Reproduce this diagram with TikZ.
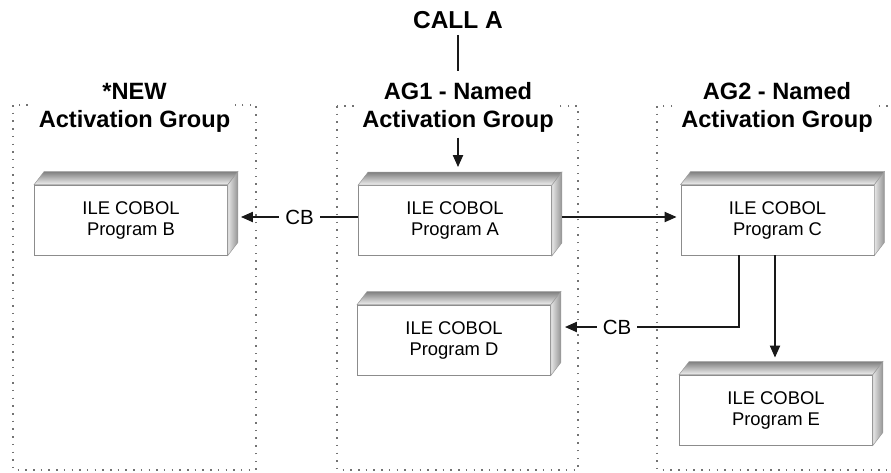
\documentclass[tikz,border=0pt]{standalone}
\usepackage{fontspec}
\setmainfont{Liberation Sans}
\usetikzlibrary{arrows.meta,calc}
\newcommand\progfaces[1]{%
  \path[top color=black!50,bottom color=black!6,draw=black!40,line width=0.5pt]
    (#1.north west) -- ++(10,-13) -- ($(#1.north east)+(10,-13)$) -- (#1.north east) -- cycle;
  \path[left color=black!10,right color=black!42,draw=black!40,line width=0.5pt]
    (#1.north east) -- ++(10,-13) -- ($(#1.south east)+(10,-13)$) -- (#1.south east) -- cycle;
}
\begin{document}
\begin{tikzpicture}[x=1pt,y=-1pt,
  grp/.style={draw=black!55,line width=1.5pt,dash pattern=on 1.5pt off 6.2pt},
  prog/.style={draw=black!45,line width=0.8pt,fill=white,minimum width=193pt,minimum height=70pt,
    align=center,font=\fontsize{18.4}{21}\selectfont,inner sep=0pt},
  lbl/.style={fill=white,align=center,font=\fontsize{23.6}{28}\selectfont\bfseries,inner xsep=5pt,inner ysep=3pt},
  conn/.style={line width=2pt,draw=black!90},
  arr/.style={conn,-{Triangle[length=12pt,width=10pt]}},
  cb/.style={fill=white,font=\fontsize{20.5}{22}\selectfont,inner xsep=6pt,inner ysep=2pt}
]
\fill[white] (0,0) rectangle (891,472);
\useasboundingbox (0,0) rectangle (891,472);

% activation groups
\draw[grp] (13,105) rectangle (256,470);
\draw[grp] (337,106) rectangle (578,470);
\draw[grp] (657,106) rectangle (905,470);

\node[lbl] (newlbl) at (134.5,107.5) {*NEW\\Activation Group};
\node[lbl] (ag1) at (458,107.5) {AG1 - Named\\Activation Group};
\node[lbl] (ag2) at (777,107.5) {AG2 - Named\\Activation Group};
\node[font=\fontsize{24.5}{28}\selectfont\bfseries,inner sep=0pt] (call) at (458,20) {CALL A};

% programs
\node[prog] (B) at (131,220) {ILE COBOL\\Program B};
\node[prog] (A) at (455,220.5) {ILE COBOL\\Program A};
\node[prog] (C) at (777.5,220) {ILE COBOL\\Program C};
\node[prog] (D) at (454,340) {ILE COBOL\\Program D};
\node[prog] (E) at (776,410) {ILE COBOL\\Program E};
\progfaces{B}
\progfaces{A}
\progfaces{C}
\progfaces{D}
\progfaces{E}

% connectors
\draw[conn] ([yshift=-6pt]call.south) -- ([yshift=8pt]ag1.north);
\draw[arr] ([yshift=-2pt]ag1.south) -- ([xshift=3pt,yshift=18pt]A.north);
\draw[arr] ([yshift=3.5pt]A.west) -- node[cb] {CB} ([xshift=13pt,yshift=3pt]B.east);
\draw[arr] ([xshift=10pt,yshift=3.5pt]A.east) -- ([xshift=-4pt,yshift=3pt]C.west);
\draw[arr] ([xshift=-38.5pt]C.south) |- node[cb,pos=0.85] {CB} ([xshift=14pt,yshift=13pt]D.east);
\draw[arr] ([xshift=-2.5pt]C.south) -- ([xshift=-1pt,yshift=17pt]E.north);
\end{tikzpicture}
\end{document}
